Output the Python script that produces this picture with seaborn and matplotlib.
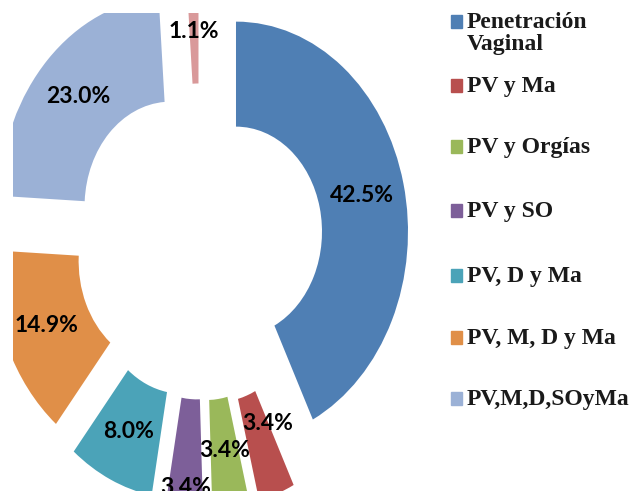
import matplotlib
matplotlib.use("Agg")
import numpy as np
import matplotlib.pyplot as plt
from matplotlib.patches import Rectangle
import seaborn as sns

# data
categories = ["Penetración\nVaginal", "PV y Ma", "PV y Orgías", "PV y SO",
              "PV, D y Ma", "PV, M, D y Ma", "PV,M,D,SOyMa", "Otros"]
percent = [42.5, 3.4, 3.4, 3.4, 8.0, 14.9, 23.0, 1.1]
colors = ["#4F7FB4", "#B84F4E", "#9AB85A", "#7D5F99",
          "#4BA3B8", "#E08F48", "#9BB1D6", "#D9999A"]
explode = [0.215, 0.28, 0.255, 0.25, 0.245, 0.225, 0.24, 0.255]
# label radius / angle tweak (deg) per slice, like the original layout
label_dist = [0.75, 0.67, 0.75, 0.92, 0.75, 0.75, 0.75, 0.75]
label_turn = [0, 6, 0, 0, 0, 0, 0, 0]

sns.set_style("white")
W, H = 635, 491
fig = plt.figure(figsize=(W / 100, H / 100), dpi=100)
# image has a small white border on top/left
ax = fig.add_axes([13 / W, 0, 1 - 13 / W, 1 - 13 / H])

wedges, texts = ax.pie(
    percent, colors=colors, explode=explode, startangle=90, counterclock=False,
    radius=1, wedgeprops=dict(width=0.5, linewidth=0))

for w, v, d, t in zip(wedges, percent, label_dist, label_turn):
    w.set_clip_on(True)
    th = np.deg2rad((w.theta1 + w.theta2) / 2 + t)
    cx, cy = w.center
    ax.text(cx + d * np.cos(th), cy + d * np.sin(th), f"{v:.1f}%",
            ha="center", va="center", fontsize=16.5, family="Lato",
            fontweight="bold", color="black")

# stretched aspect like the source image (pie center at px 200, 242)
ax.set_aspect("auto")
ax.set_xlim(-(200 - 13) / 172, (W - 200) / 172)
ax.set_ylim(-(H - 242) / 210, (242 - 13) / 210)
ax.axis("off")

# legend (7 entries)
baselines = [28, 92, 153, 217, 282, 344, 405]
for lab, col, b in zip(categories[:7], colors, baselines):
    fig.patches.append(Rectangle((451 / W, 1 - b / H), 11 / W, 13 / H,
                                 transform=fig.transFigure, color=col))
    for i, line in enumerate(lab.split("\n")):
        fig.text(467 / W, 1 - (b + 22 * i) / H, line, fontsize=17,
                 family="Liberation Serif", fontweight="bold",
                 va="baseline", ha="left", color="#1a1a1a")

fig.savefig("out.png", dpi=100)
